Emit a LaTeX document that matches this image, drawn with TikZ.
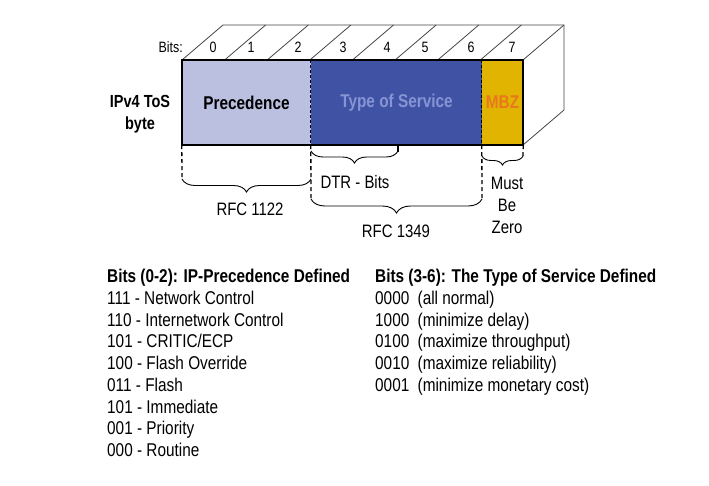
\documentclass[tikz,border=0pt]{standalone}
\usepackage{fontspec}
\setmainfont[FakeStretch=0.83]{Liberation Sans}
\usetikzlibrary{decorations.pathreplacing}
\definecolor{precfill}{RGB}{188,192,224}
\definecolor{tosfill}{RGB}{64,82,164}
\definecolor{tostext}{RGB}{134,148,212}
\definecolor{mbzfill}{RGB}{224,180,0}
\definecolor{mbztext}{RGB}{232,120,30}
\definecolor{edgegray}{RGB}{70,70,70}
\tikzset{
  field/.style={rectangle, inner sep=0pt, minimum height=85pt, draw=none, font=\fontsize{18.5}{20}\selectfont\bfseries},
  faceline/.style={draw=edgegray, line width=0.8pt},
  divline/.style={line width=1.3pt, dash pattern=on 3pt off 2pt},
  guide/.style={line width=1.3pt, dash pattern=on 4pt off 3pt},
  bracestyle/.style={line width=0.9pt, decorate, decoration={brace, mirror, amplitude=#1}},
  lbl/.style={inner sep=0pt, font=\fontsize{18}{20}\selectfont},
  bitnum/.style={inner sep=0pt, font=\fontsize{15}{16}\selectfont},
  row/.style={inner sep=0pt, anchor=base west, font=\fontsize{18.5}{20}\selectfont},
  head/.style={row, font=\fontsize{18.5}{20}\selectfont\bfseries}
}
\begin{document}
\begin{tikzpicture}[x=1pt,y=-1pt]
\useasboundingbox (0,0) rectangle (709,485);
\fill[white] (0,0) rectangle (709,485);

% 3D top and right faces
\draw[faceline] (182,60) -- (223,25) -- (564,25) -- (564,110) -- (523,145);
\foreach \i in {1,...,8}{
  \draw[faceline] (182+\i*42.625,60) -- ++(41,-35);
}

% front fields
\node[field, fill=precfill, minimum width=129pt] (prec) at (246.5,102.5) {Precedence};
\node[field, fill=tosfill, minimum width=171pt, text=tostext] (tos) at (396.5,102.5) {Type of Service};
\node[field, fill=mbzfill, minimum width=41pt, text=mbztext] (mbz) at (502.5,102.5) {MBZ};
\draw[line width=2pt] (prec.north west) rectangle (mbz.south east);
\draw[divline] (tos.north west) -- (tos.south west);
\draw[divline] (mbz.north west) -- (mbz.south west);

% bit labels
\node[bitnum, anchor=east] (bitslbl) at (183,47) {Bits:};
\foreach \n/\x in {0/213,1/251,2/298,3/343,4/387,5/425,6/471,7/512}{
  \node[bitnum] (b\n) at (\x,47) {\n};
}

% left label
\node[inner sep=0pt, align=center, font=\fontsize{17.5}{22}\selectfont\bfseries] (ipv4) at (140,114) {IPv4 ToS\\byte};

% guide lines below the box
\coordinate (g0) at (182,179);
\coordinate (g1) at (311,200);
\coordinate (g2) at (398,152);
\coordinate (g3) at (482,200);
\coordinate (g4) at (523,157);
\draw[guide] (prec.south west) -- (g0);
\draw[guide] (tos.south west) -- (g1);
\draw[line width=1.1pt] (398,145) -- (g2);
\draw[guide] (mbz.south west) -- (g3);
\draw[guide] (mbz.south east) -- (g4);

% braces
\coordinate (r1a) at (182,179);
\coordinate (r1b) at (311,179);
\draw[bracestyle=13pt] (r1a) -- (r1b);
\coordinate (da) at (311,151);
\coordinate (db) at (398,151);
\draw[bracestyle=12pt] (da) -- (db);
\coordinate (r2a) at (311,199);
\coordinate (r2b) at (482,199);
\draw[bracestyle=14pt] (r2a) -- (r2b);
\coordinate (ma) at (482,156);
\coordinate (mb) at (523,156);
\draw[bracestyle=9pt] (ma) -- (mb);

% brace labels
\node[lbl] (rfc1122) at (250,209) {RFC 1122};
\node[lbl] (dtr) at (355,182) {DTR - Bits};
\node[lbl] (rfc1349) at (396,231) {RFC 1349};
\node[lbl, align=center, font=\fontsize{18}{22}\selectfont] (mbzlbl) at (507,205) {Must\\Be\\Zero};

% bottom lists
\node[head] (hl) at (107,282.5) {Bits (0-2): IP-Precedence Defined};
\foreach \t [count=\i] in {111 - Network Control,110 - Internetwork Control,101 - CRITIC/ECP,100 - Flash Override,011 - Flash,101 - Immediate,001 - Priority,000 - Routine}{
  \node[row] (l\i) at (107,282.5+\i*21.75) {\t};
}
\node[head] (hr) at (375,282.5) {Bits (3-6): The Type of Service Defined};
\foreach \c/\t [count=\i] in {0000/all normal,1000/minimize delay,0100/maximize throughput,0010/maximize reliability,0001/minimize monetary cost}{
  \node[row] (r\i) at (375,282.5+\i*21.75) {\c\hspace{0.45em}(\t)};
}
\end{tikzpicture}
\end{document}
